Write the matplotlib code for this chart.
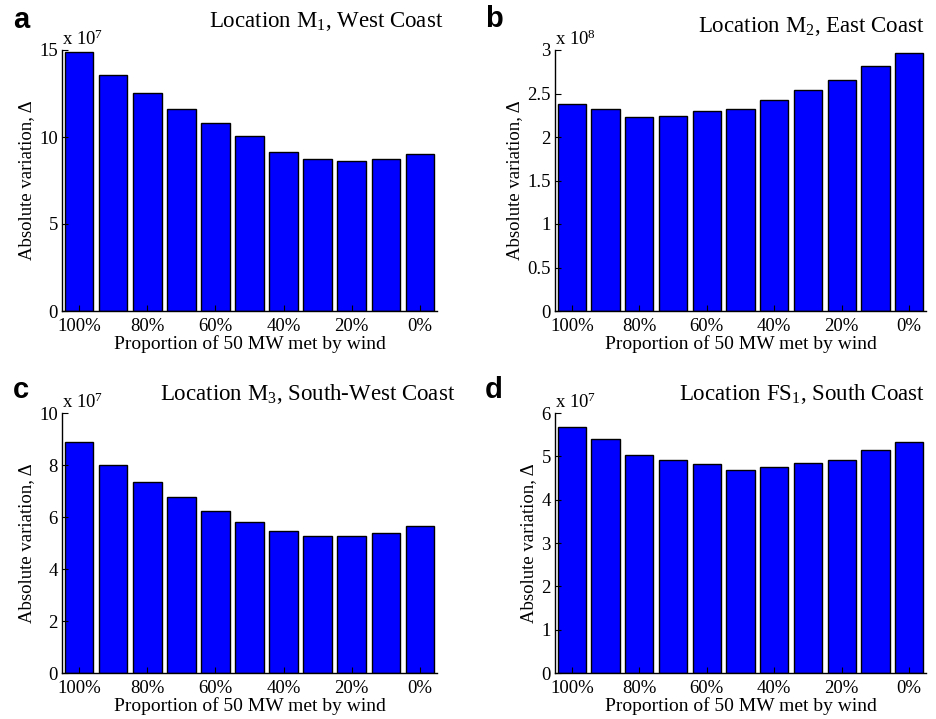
import numpy as np
import matplotlib
matplotlib.use('Agg')
import matplotlib.pyplot as plt
from matplotlib.ticker import FormatStrFormatter

plt.rcParams['font.family'] = ['Liberation Serif', 'DejaVu Serif']
plt.rcParams['mathtext.fontset'] = 'custom'
plt.rcParams['mathtext.rm'] = 'Liberation Serif'
plt.rcParams['mathtext.it'] = 'Liberation Serif:italic'

# Proportion of the 50 MW demand met by wind, one bar per 10% step
proportions = ['100%', '90%', '80%', '70%', '60%', '50%', '40%', '30%', '20%', '10%', '0%']
tick_labels = ['100%', '80%', '60%', '40%', '20%', '0%']

# Absolute variation per site (in units of the exponent shown above each axis)
m1_west = [14.90, 13.54, 12.55, 11.59, 10.79, 10.04, 9.12, 8.75, 8.62, 8.72, 9.00]
m2_east = [2.383, 2.318, 2.234, 2.245, 2.295, 2.326, 2.421, 2.540, 2.651, 2.812, 2.962]
m3_southwest = [8.87, 8.01, 7.36, 6.78, 6.24, 5.81, 5.47, 5.27, 5.27, 5.40, 5.64]
fs1_south = [5.67, 5.40, 5.04, 4.92, 4.83, 4.69, 4.75, 4.85, 4.92, 5.14, 5.34]

W, H = 936, 719
fig = plt.figure(figsize=(W / 100, H / 100), dpi=100)


def px_axes(left, right, top, bottom):
    return fig.add_axes([left / W, 1 - bottom / H, (right - left) / W, (bottom - top) / H])


panels = [
    # letter, data, ymax, yticks, exponent, title, axes box (px), title right x, title baseline y, letter pos
    ('a', m1_west, 15, [0, 5, 10, 15], 7, r'Location M$_{\mathrm{1}}$, West Coast',
     (62, 437, 50, 311), 443, 27, (13, 28)),
    ('b', m2_east, 3, [0, 0.5, 1, 1.5, 2, 2.5, 3], 8, r'Location M$_{\mathrm{2}}$, East Coast',
     (555, 926, 50, 311), 925, 32, (485, 27)),
    ('c', m3_southwest, 10, [0, 2, 4, 6, 8, 10], 7, r'Location M$_{\mathrm{3}}$, South-West Coast',
     (62, 437, 413, 673), 455, 400, (13, 398)),
    ('d', fs1_south, 6, [0, 1, 2, 3, 4, 5, 6], 7, r'Location FS$_{\mathrm{1}}$, South Coast',
     (555, 926, 413, 673), 925, 400, (485, 398)),
]

x = np.arange(1, len(proportions) + 1)

for letter, vals, ymax, yticks, expo, title, box, tx, ty, (lx, ly) in panels:
    ax = px_axes(*box)
    ax.bar(x, vals, width=0.84, color='#0000ff', edgecolor='black', linewidth=1.0)
    ax.set_xlim(0.5, 11.5)
    ax.set_ylim(0, ymax)
    ax.set_yticks(yticks)
    ax.yaxis.set_major_formatter(FormatStrFormatter('%g'))
    ax.set_xticks(x[::2])
    ax.set_xticklabels(tick_labels)
    ax.tick_params(direction='in', length=4, width=0.8, labelsize=13.5)
    ax.tick_params(axis='x', pad=5)
    ax.tick_params(axis='y', pad=3)
    ax.spines['top'].set_visible(False)
    ax.spines['right'].set_visible(False)
    for s in ('left', 'bottom'):
        ax.spines[s].set_linewidth(1.0)
    ax.set_ylabel('Absolute variation, Δ', fontsize=13.5, labelpad=3)
    ax.set_xlabel('Proportion of 50 MW met by wind', fontsize=14, labelpad=0)
    ax.annotate(r'x 10$^{%d}$' % expo, xy=(0, 1), xycoords='axes fraction',
                xytext=(0, 5), textcoords='offset pixels',
                ha='left', va='baseline', fontsize=13.5)
    fig.text(tx / W, 1 - ty / H, title, ha='right', va='baseline', fontsize=16.5)
    fig.text(lx / W, 1 - ly / H, letter, ha='left', va='baseline', fontsize=21,
             fontweight='bold', family='Liberation Sans')

fig.savefig('out.png', dpi=100)
